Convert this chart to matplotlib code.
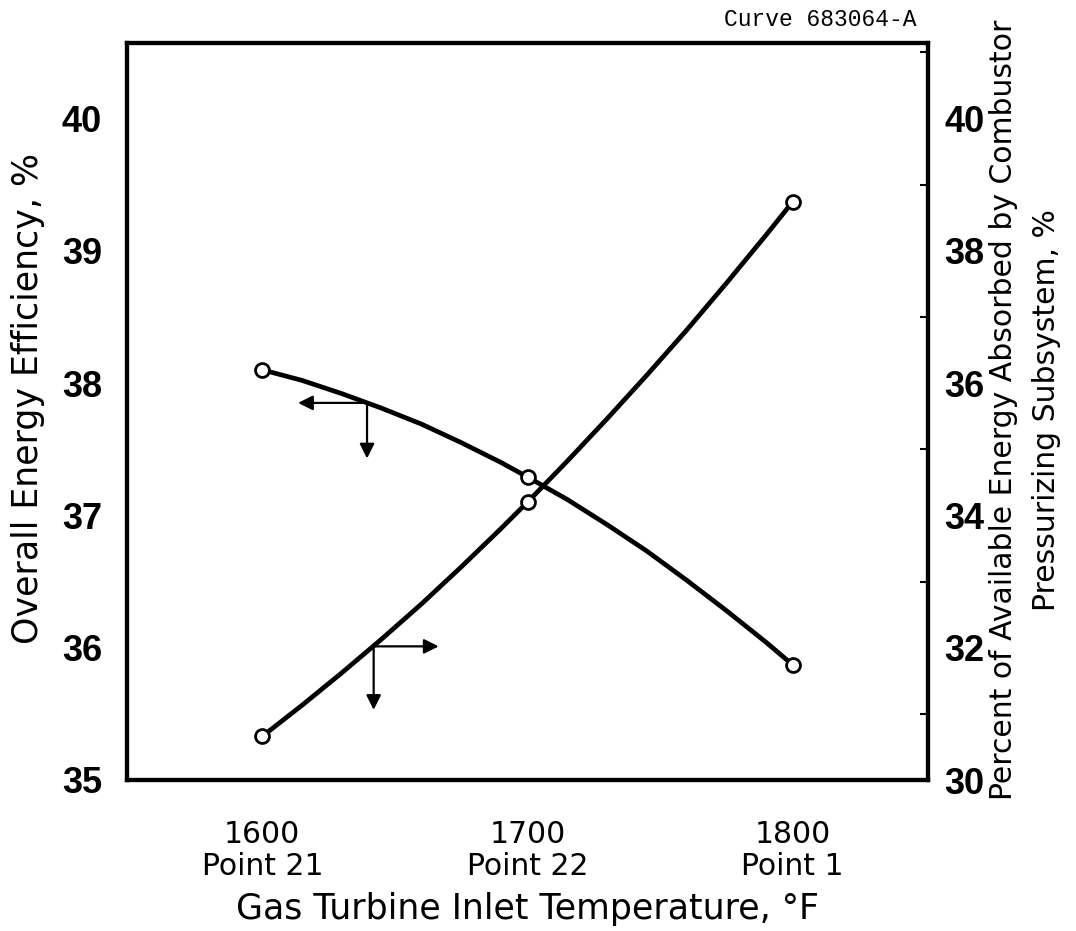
import matplotlib
matplotlib.use('Agg')
import matplotlib.pyplot as plt
from matplotlib.ticker import MultipleLocator

# gas turbine inlet temperature, deg F, and design point names
temps = [1600, 1700, 1800]
point_names = ['Point 21', 'Point 22', 'Point 1']

# calculated points
efficiency = [38.10, 37.29, 35.87]   # overall energy efficiency, % (left axis)
absorbed = [30.66, 34.20, 38.74]     # % of available energy to combustor pressurizing (right axis)

# hand-faired curves
curve_t = [1600, 1615, 1630, 1645, 1660, 1675, 1690, 1700,
           1715, 1730, 1745, 1760, 1775, 1790, 1800]
eff_curve = [38.10, 38.02, 37.92, 37.81, 37.69, 37.55, 37.40, 37.29,
             37.12, 36.93, 36.73, 36.51, 36.28, 36.04, 35.87]
abs_curve = [30.66, 31.13, 31.62, 32.13, 32.66, 33.22, 33.80, 34.20,
             34.82, 35.46, 36.12, 36.80, 37.51, 38.24, 38.74]

# which-axis arrows: (start x, start y, tip x, tip y)
eff_arrows = [(1639.5, 37.85, 1613.5, 37.85), (1639.5, 37.85, 1639.5, 37.43)]
abs_arrows = [(1642.0, 32.02, 1666.5, 32.02), (1642.0, 32.02, 1642.0, 31.06)]

LABEL_FONT = ['DejaVu Sans']
NUM_FONT = ['Liberation Sans', 'DejaVu Sans']


def draw_arrows(ax, arrows):
    for x0, y0, x1, y1 in arrows:
        ax.annotate('', xy=(x1, y1), xytext=(x0, y0),
                    arrowprops=dict(arrowstyle='-|>', color='k', lw=1.6,
                                    mutation_scale=22, shrinkA=0, shrinkB=0))


def main():
    fig = plt.figure(figsize=(10.76, 9.31), dpi=100)
    ax = fig.add_axes([127 / 1076, 1 - 780 / 931, 801 / 1076, 737 / 931])
    ax2 = ax.twinx()

    ax.plot(curve_t, eff_curve, 'k-', lw=3.4, solid_capstyle='round',
            solid_joinstyle='round', zorder=2)
    ax.plot(temps, efficiency, 'o', ms=10, mfc='white', mec='k', mew=2.0, zorder=3)
    ax2.plot(curve_t, abs_curve, 'k-', lw=3.4, solid_capstyle='round',
             solid_joinstyle='round', zorder=2)
    ax2.plot(temps, absorbed, 'o', ms=10, mfc='white', mec='k', mew=2.0, zorder=3)

    draw_arrows(ax, eff_arrows)
    draw_arrows(ax2, abs_arrows)

    ax.set_xlim(1549, 1851)
    ax.set_ylim(35, 40.57)
    ax2.set_ylim(30, 41.14)

    ax.set_xticks(temps)
    ax.set_xticklabels(['{}\n{}'.format(t, p) for t, p in zip(temps, point_names)],
                       family=LABEL_FONT, fontsize=21.5, linespacing=1.1)
    ax.set_yticks([35, 36, 37, 38, 39, 40])
    ax.set_yticklabels(['35', '36', '37', '38', '39', '40'], family=NUM_FONT,
                       fontsize=26, weight='bold')
    ax2.set_yticks([30, 32, 34, 36, 38, 40])
    ax2.set_yticklabels(['30', '32', '34', '36', '38', '40'], family=NUM_FONT,
                        fontsize=26, weight='bold')
    ax2.yaxis.set_minor_locator(MultipleLocator(1))

    ax.tick_params(axis='x', length=0, pad=29)
    ax.tick_params(axis='y', length=0, pad=18)
    ax2.tick_params(axis='y', which='major', length=0, pad=12)
    ax2.tick_params(axis='y', which='minor', direction='in', length=6, width=1.5)

    for a in (ax, ax2):
        for s in a.spines.values():
            s.set_linewidth(3.0)

    ax.set_xlabel('Gas Turbine Inlet Temperature, \u00b0F', family=LABEL_FONT,
                  fontsize=25)
    ax.xaxis.set_label_coords(0.5, -0.152)

    fig.text(28 / 1076, 1 - 398 / 931, 'Overall Energy Efficiency, %',
             family=LABEL_FONT, fontsize=25, rotation=90, ha='center', va='center')
    fig.text(1025 / 1076, 1 - 410 / 931,
             'Percent of Available Energy Absorbed by Combustor\n'
             'Pressurizing Subsystem, %',
             family=LABEL_FONT, fontsize=21.5, rotation=90, ha='center', va='center',
             multialignment='center', linespacing=1.6)

    fig.text(820 / 1076, 1 - 20 / 931, 'Curve 683064-A', family='Liberation Mono',
             fontsize=16.5, ha='center', va='center')

    fig.savefig('out.png', dpi=100)


if __name__ == '__main__':
    main()
